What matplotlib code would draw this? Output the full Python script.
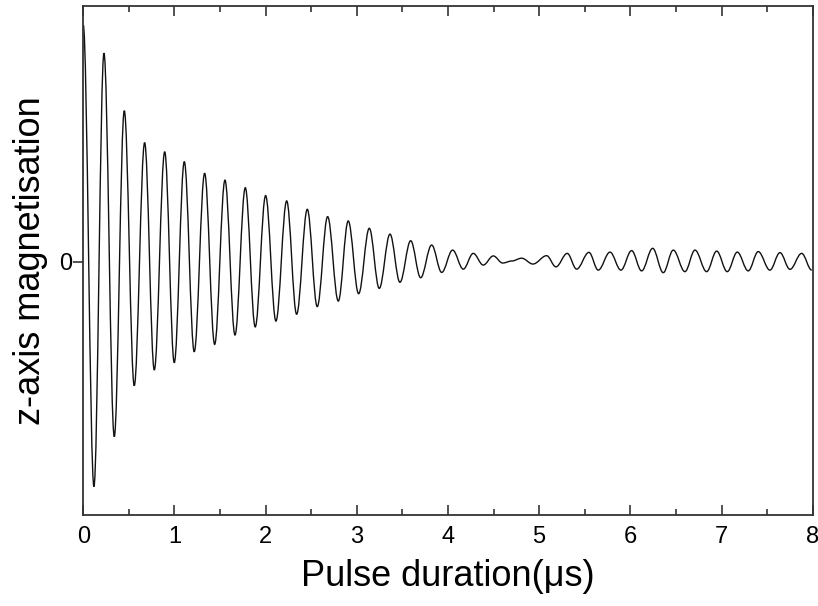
import matplotlib
matplotlib.use("Agg")
import matplotlib.pyplot as plt
from matplotlib.path import Path
from matplotlib.patches import PathPatch
from matplotlib.ticker import MultipleLocator

plt.rcParams['font.family'] = ['Liberation Sans', 'DejaVu Sans']

# turning points of the trace: time (us), magnetisation
t_ext = [0.000, 0.117, 0.227, 0.340, 0.450, 0.559, 0.673, 0.779, 0.893, 0.998,
         1.108, 1.217, 1.331, 1.441, 1.554, 1.664, 1.777, 1.886, 2.000, 2.113,
         2.231, 2.340, 2.457, 2.566, 2.680, 2.797, 2.906, 3.020, 3.137, 3.246,
         3.364, 3.473, 3.591, 3.700, 3.821, 3.931, 4.051, 4.168, 4.277, 4.387,
         4.497, 4.600, 4.700, 4.808, 4.932, 5.082, 5.184, 5.308, 5.411, 5.546,
         5.648, 5.777, 5.897, 6.014, 6.124, 6.245, 6.361, 6.471, 6.599, 6.709,
         6.837, 6.947, 7.063, 7.173, 7.293, 7.403, 7.531, 7.641, 7.751, 7.879,
         7.990]
m_ext = [0.933, -0.888, 0.822, -0.691, 0.595, -0.490, 0.469, -0.428, 0.433, -0.399,
         0.394, -0.356, 0.348, -0.327, 0.321, -0.290, 0.291, -0.258, 0.260, -0.235,
         0.239, -0.208, 0.206, -0.178, 0.177, -0.156, 0.160, -0.127, 0.131, -0.106,
         0.108, -0.082, 0.082, -0.064, 0.065, -0.043, 0.045, -0.030, 0.032, -0.014,
         0.022, -0.006, 0.002, 0.013, -0.010, 0.023, -0.021, 0.032, -0.030, 0.036,
         -0.034, 0.037, -0.034, 0.043, -0.037, 0.052, -0.044, 0.045, -0.040, 0.045,
         -0.040, 0.041, -0.040, 0.037, -0.037, 0.039, -0.034, 0.035, -0.031, 0.032,
         -0.034]

fig = plt.figure(figsize=(8.18, 6.06), dpi=100)
ax = fig.add_axes([0.1018, 0.1502, 0.8917, 0.8399])

# smooth trace: cubic segments with flat tangents at each turning point
k = 0.3634
verts = [(t_ext[0], m_ext[0])]
codes = [Path.MOVETO]
for i in range(1, len(t_ext)):
    t0, v0 = t_ext[i - 1], m_ext[i - 1]
    t1, v1 = t_ext[i], m_ext[i]
    dt = t1 - t0
    verts += [(t0 + k * dt, v0), (t1 - k * dt, v1), (t1, v1)]
    codes += [Path.CURVE4] * 3
ax.add_patch(PathPatch(Path(verts, codes), fill=False, edgecolor='#111111', lw=1.0))

ax.set_xlim(0, 8)
ax.set_ylim(-1.0, 1.008)

ax.xaxis.set_major_locator(MultipleLocator(1))
ax.xaxis.set_minor_locator(MultipleLocator(0.5))
ax.set_yticks([0])

ax.tick_params(axis='x', which='both', direction='in', top=True, labelsize=17, pad=8,
               width=1.1, color='#222222')
ax.tick_params(axis='x', which='major', length=7)
ax.tick_params(axis='x', which='minor', length=4.3)
ax.tick_params(axis='y', direction='out', length=7, width=1.1, labelsize=17, pad=1,
               color='#222222', right=False)

for s in ax.spines.values():
    s.set_linewidth(1.3)
    s.set_color('#333333')

ax.set_xlabel('Pulse duration(\u03bcs)', fontsize=26, labelpad=8)
ax.set_ylabel('z-axis magnetisation', fontsize=26, labelpad=8)

fig.savefig('out.png', dpi=100)
